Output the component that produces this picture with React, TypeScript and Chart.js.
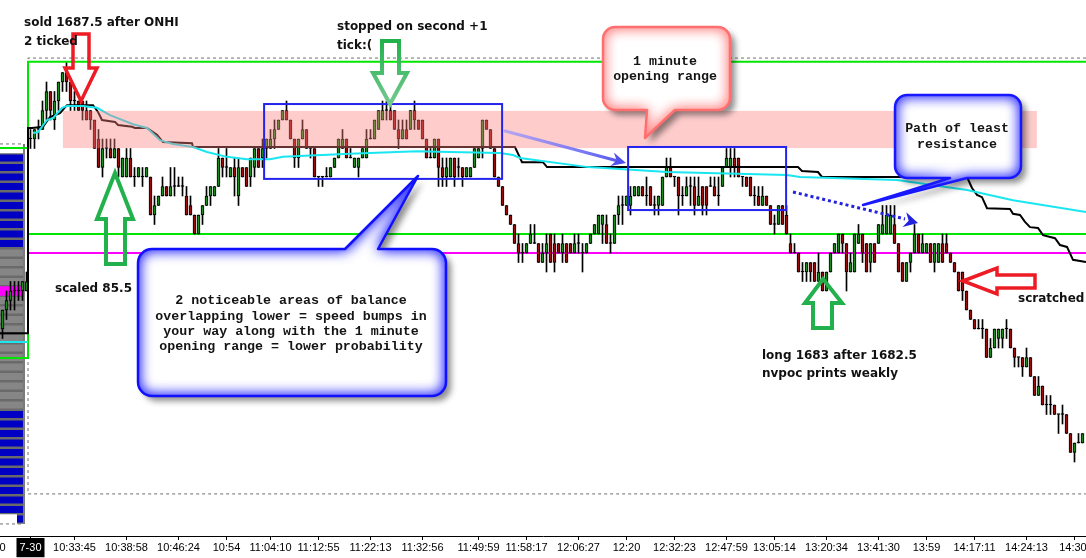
import React, { useEffect, useRef } from 'react';
import { Chart, registerables } from 'chart.js';

Chart.register(...registerables);

// ---------------- data ----------------
const FIRST_BAR = -7; // bar index of first entry (prior session bars are negative)

const opens = [
  1681.5, 1682, 1682.25, 1682.5, 1682.5, 1682.5, 1682.5,
  1686.5, 1686.5, 1686.75, 1686.75, 1687.25, 1687.75, 1687, 1687.5, 1688, 1688.25,
  1688, 1687.5, 1687.5, 1687.5, 1687.25, 1687.25, 1687, 1686.5, 1685.75, 1686.25,
  1686.25, 1686, 1686.25, 1685.5, 1685.5, 1686, 1685.5, 1685.5, 1685.5, 1685.5,
  1685.5, 1684.5, 1684.75, 1685, 1685.25, 1685, 1685.25, 1685.25, 1685.25, 1685,
  1684.75, 1684.5, 1684, 1684.5, 1684.75, 1685, 1685, 1685.25, 1686, 1685.75,
  1685.5, 1685.75, 1685, 1685.75, 1685.75, 1685.5, 1685.75, 1686.25, 1686, 1686.25,
  1686.25, 1686.5, 1686.75, 1687, 1687.25, 1687, 1686.5, 1686, 1686.5, 1686.75,
  1686.25, 1686.25, 1685.5, 1685.5, 1685.5, 1685.5, 1685.75, 1686, 1686.25, 1686.5,
  1686, 1685.75, 1685.75, 1686, 1686, 1686.5, 1686.5, 1686.75, 1687, 1687.25,
  1687.25, 1687.25, 1686.75, 1686.5, 1686.75, 1686.75, 1687.25, 1687, 1687, 1686.5,
  1686, 1686, 1686.5, 1685.75, 1685.5, 1685.5, 1686, 1685.75, 1685.75, 1685.5,
  1685.5, 1685.75, 1686, 1686.25, 1687, 1686.75, 1686.25, 1685.5, 1685.25, 1684.75,
  1684.5, 1684.25, 1683.75, 1683.5, 1683.5, 1683.75, 1683.75, 1683.75, 1683.25, 1683.5,
  1684, 1683.75, 1683.75, 1683.5, 1683.75, 1683.75, 1683.5, 1683.75, 1683.5, 1683.5,
  1683.75, 1684, 1684, 1684.25, 1684.25, 1683.75, 1683.75, 1684.5, 1684.75, 1684.75,
  1684.75, 1685, 1685, 1685.25, 1685, 1685.25, 1684.75, 1684.75, 1684.75, 1685.5,
  1685.75, 1685.5, 1685.5, 1685, 1685, 1685.25, 1685.25, 1684.75, 1685.25, 1685.25,
  1685.25, 1685.25, 1685, 1685.25, 1685.75, 1685.75, 1686, 1686, 1685.5, 1685.5,
  1685.5, 1685, 1685, 1684.75, 1685, 1684.75, 1684.25, 1684.25, 1684.75, 1684.5,
  1683.75, 1683.5, 1683.5, 1683, 1683, 1683.25, 1683.25, 1682.75, 1683, 1682.5,
  1683, 1683.5, 1683.5, 1684, 1683.75, 1683, 1683, 1683.75, 1684, 1683.75,
  1683.25, 1683.75, 1683.75, 1684, 1684, 1684, 1684.25, 1683.75, 1683.25, 1682.75,
  1683.25, 1683.5, 1684, 1683.5, 1683.5, 1683.75, 1683.25, 1683.25, 1683.75, 1683.75,
  1683.5, 1683.25, 1683, 1683, 1682.5, 1682, 1681.75, 1681.5, 1681.5, 1681.5,
  1680.75, 1681, 1681.25, 1681.25, 1681.5, 1681.5, 1681, 1680.75, 1680.75, 1680.5,
  1680.75, 1680.25, 1679.75, 1680, 1679.5, 1679.5, 1679.5, 1679.25, 1679.25, 1679.25,
  1678.75, 1678.25, 1678.5, 1678.5,
];

const highs = [
  1682, 1682.5, 1682.75, 1682.75, 1682.75, 1682.75, 1683,
  1686.75, 1686.75, 1687, 1687.5, 1688, 1687.75, 1687.75, 1688, 1688.25, 1688.5,
  1688, 1687.75, 1687.5, 1687.5, 1687.5, 1687.25, 1687, 1686.75, 1686.5, 1686.5,
  1686.5, 1686.5, 1686.25, 1686, 1686.25, 1686.25, 1685.75, 1685.75, 1685.75, 1685.75,
  1685.5, 1685, 1685, 1685.5, 1685.25, 1685.75, 1685.75, 1685.5, 1685.5, 1685.25,
  1685, 1684.5, 1684.5, 1684.75, 1685.25, 1685.25, 1685.25, 1686.25, 1686, 1686.25,
  1685.75, 1686, 1686, 1685.75, 1685.75, 1686, 1686.25, 1686.25, 1686.5, 1686.5,
  1686.75, 1687, 1687, 1687.25, 1687.5, 1687, 1686.5, 1686.5, 1687, 1686.75,
  1686.25, 1686.25, 1685.5, 1685.5, 1685.75, 1685.75, 1686, 1686.5, 1686.75, 1686.5,
  1686.25, 1686, 1686, 1686.25, 1686.75, 1686.75, 1687, 1687.25, 1687.5, 1687.5,
  1687.5, 1687.25, 1687, 1687, 1687, 1687.25, 1687.5, 1687, 1687, 1686.5,
  1686.25, 1686.5, 1686.5, 1686, 1686, 1686, 1686, 1686, 1685.75, 1685.75,
  1685.75, 1686.25, 1686.25, 1687, 1687, 1686.75, 1686.25, 1685.5, 1685.25, 1684.75,
  1684.5, 1684.25, 1684, 1683.75, 1683.75, 1684.25, 1684.25, 1683.75, 1683.75, 1684,
  1684, 1684, 1683.75, 1684, 1683.75, 1683.75, 1684, 1684, 1683.75, 1683.75,
  1684, 1684.25, 1684.5, 1684.5, 1684.5, 1684, 1684.5, 1685, 1685, 1685,
  1685.25, 1685.25, 1685.25, 1685.25, 1685.5, 1685.25, 1685, 1685, 1685.5, 1686,
  1686, 1685.5, 1685.5, 1685.25, 1685.5, 1685.5, 1685.5, 1685.5, 1685.25, 1685.25,
  1685.5, 1685.5, 1685.5, 1685.75, 1686.25, 1686.25, 1686.25, 1686, 1685.5, 1685.5,
  1685.5, 1685.25, 1685.25, 1685.25, 1685, 1684.75, 1684.5, 1684.75, 1684.75, 1684.75,
  1684, 1683.75, 1683.5, 1683.25, 1683.25, 1683.25, 1683.25, 1683.5, 1683, 1683,
  1683.5, 1683.75, 1684, 1684, 1683.75, 1683.5, 1684, 1684.25, 1684, 1683.75,
  1683.75, 1683.75, 1684.25, 1684.75, 1684.75, 1684.75, 1684.75, 1683.75, 1683.25, 1683.25,
  1683.5, 1684.25, 1684, 1684, 1683.75, 1683.75, 1683.75, 1683.75, 1684, 1684,
  1683.5, 1683.25, 1683, 1683, 1682.5, 1682, 1681.75, 1681.75, 1681.75, 1681.5,
  1681.25, 1681.5, 1681.5, 1681.5, 1681.75, 1681.5, 1681, 1680.75, 1680.75, 1681,
  1680.75, 1680.25, 1680.25, 1680, 1679.75, 1679.75, 1679.5, 1679.25, 1679.5, 1679.25,
  1678.75, 1678.5, 1678.75, 1678.75,
];

const lows = [
  1681.25, 1681.75, 1682, 1682, 1682.25, 1682.25, 1682.5,
  1686.25, 1686.25, 1686.5, 1686.75, 1687, 1687, 1686.75, 1687.25, 1687.75, 1687.75,
  1687.25, 1687.25, 1687.25, 1687, 1687, 1686.75, 1686.25, 1685.75, 1685.5, 1686,
  1686, 1686, 1685.5, 1685.5, 1685.5, 1685.5, 1685.25, 1685.5, 1685.25, 1685.5,
  1684.5, 1684.25, 1684.75, 1685, 1685, 1685, 1685, 1685.25, 1685, 1684.5,
  1684.5, 1684, 1684, 1684.25, 1684.75, 1684.75, 1685, 1685.25, 1685.5, 1685.5,
  1685.5, 1685, 1684.75, 1685.5, 1685.25, 1685.25, 1685.5, 1685.75, 1685.75, 1686,
  1686.25, 1686.25, 1686.75, 1687, 1687, 1686.5, 1685.75, 1685.75, 1686.5, 1686.25,
  1686, 1685.5, 1685.25, 1685.25, 1685.5, 1685.5, 1685.75, 1686, 1686.25, 1686,
  1686, 1685.75, 1685.5, 1686, 1686, 1686.5, 1686.5, 1686.75, 1687, 1687,
  1687, 1686.75, 1686.25, 1686.5, 1686.5, 1686.75, 1686.75, 1686.75, 1686.5, 1686,
  1686, 1686, 1685.25, 1685.25, 1685.25, 1685.5, 1685.25, 1685.5, 1685.25, 1685.5,
  1685.5, 1685.75, 1686, 1686, 1686.75, 1686.25, 1685.5, 1685.25, 1684.75, 1684.5,
  1684.25, 1683.75, 1683.25, 1683.25, 1683.5, 1683.75, 1683.75, 1683.25, 1683.25, 1683,
  1683.25, 1683, 1683.5, 1683.25, 1683.25, 1683.5, 1683.5, 1683.5, 1683, 1683.5,
  1683.75, 1684, 1684, 1683.75, 1683.75, 1683.5, 1683.75, 1684.25, 1684.25, 1684.75,
  1684.5, 1685, 1685, 1685, 1684.75, 1684.75, 1684.5, 1684.5, 1684.75, 1685.5,
  1685.5, 1685.25, 1684.5, 1684.75, 1685, 1684.75, 1684.5, 1684.75, 1684.5, 1684.5,
  1685.25, 1685, 1684.75, 1685.25, 1685.75, 1685.5, 1685.5, 1685.5, 1685.25, 1685.25,
  1685, 1684.75, 1684.75, 1684.75, 1684.75, 1684.25, 1684, 1684.25, 1684.25, 1684,
  1683.5, 1683.5, 1683, 1682.75, 1682.75, 1682.75, 1682.75, 1682.75, 1682.5, 1682.5,
  1683, 1683.5, 1683.5, 1683.5, 1682.5, 1683, 1683, 1683.75, 1683.25, 1683,
  1683, 1683.25, 1683.75, 1684, 1684, 1684, 1683.75, 1683, 1682.75, 1682.75,
  1683, 1683.5, 1683.5, 1683.5, 1683.5, 1683.25, 1683, 1683.25, 1683.25, 1683.5,
  1683.25, 1683, 1682.5, 1682.25, 1682, 1681.75, 1681.5, 1681.5, 1681.25, 1680.75,
  1680.75, 1681, 1681, 1681, 1681.25, 1681, 1680.5, 1680.5, 1680.25, 1680.5,
  1680.25, 1679.75, 1679.75, 1679.5, 1679.25, 1679.25, 1679.25, 1678.75, 1679, 1678.75,
  1678.25, 1678, 1678.5, 1678.5,
];

const closes = [
  1682, 1682.25, 1682.5, 1682.5, 1682.5, 1682.75, 1682.75,
  1686.5, 1686.75, 1686.75, 1687.25, 1687.75, 1687.25, 1687.5, 1688, 1688.25, 1688,
  1687.5, 1687.5, 1687.25, 1687.25, 1687, 1687, 1686.25, 1685.75, 1686.25, 1686.25,
  1686, 1686.25, 1685.75, 1686, 1686, 1685.5, 1685.5, 1685.75, 1685.5, 1685.75,
  1684.5, 1684.75, 1685, 1685.25, 1685, 1685.25, 1685.25, 1685.25, 1685.25, 1684.5,
  1684.5, 1684, 1684.5, 1684.75, 1685, 1685.25, 1685.25, 1686, 1685.75, 1685.75,
  1685.75, 1685.5, 1685.75, 1685.5, 1685.25, 1686, 1686.25, 1685.75, 1686.25, 1686.5,
  1686.5, 1686.75, 1687, 1687.25, 1687, 1686.5, 1686, 1686.5, 1686.75, 1686.25,
  1686.25, 1685.5, 1685.5, 1685.5, 1685.5, 1685.75, 1686, 1686.5, 1686.5, 1686,
  1686, 1686, 1686, 1686.25, 1686.5, 1686.5, 1687, 1687.25, 1687.25, 1687.25,
  1687, 1686.75, 1686.5, 1686.75, 1686.5, 1687.25, 1687, 1686.75, 1686.5, 1686,
  1686, 1686.5, 1685.75, 1685.5, 1685.75, 1686, 1685.5, 1685.75, 1685.5, 1685.75,
  1685.75, 1686.25, 1686.25, 1687, 1686.75, 1686.25, 1685.5, 1685.25, 1684.75, 1684.5,
  1684.25, 1683.75, 1683.5, 1683.5, 1683.75, 1684, 1683.75, 1683.25, 1683.5, 1683.75,
  1683.25, 1683.25, 1683.5, 1683.75, 1683.25, 1683.5, 1683.75, 1683.75, 1683.5, 1683.75,
  1684, 1684.25, 1684.5, 1684.5, 1683.75, 1683.75, 1684.5, 1684.75, 1684.75, 1685,
  1685, 1685.25, 1685.25, 1685, 1685, 1684.75, 1684.75, 1685, 1685.5, 1685.75,
  1685.5, 1685.5, 1685, 1685, 1685.25, 1685.25, 1684.75, 1685, 1684.75, 1684.75,
  1685.25, 1685, 1685, 1685.75, 1686, 1686, 1685.75, 1685.5, 1685.5, 1685.25,
  1685, 1685, 1684.75, 1685, 1684.75, 1684.25, 1684.25, 1684.75, 1684.25, 1684,
  1683.5, 1683.5, 1683, 1683, 1683.25, 1683, 1682.75, 1683, 1682.5, 1683,
  1683.5, 1683.75, 1684, 1683.75, 1683, 1683.25, 1684, 1684, 1683.5, 1683,
  1683.75, 1683.25, 1684.25, 1684.25, 1684.5, 1684.5, 1683.75, 1683, 1682.75, 1683.25,
  1683.5, 1684, 1683.5, 1683.75, 1683.75, 1683.25, 1683.75, 1683.75, 1683.25, 1683.5,
  1683.25, 1683, 1682.5, 1682.5, 1682, 1681.75, 1681.5, 1681.5, 1681.5, 1680.75,
  1681, 1681.5, 1681.5, 1681.5, 1681.5, 1681, 1680.75, 1680.75, 1680.5, 1680.75,
  1680.25, 1679.75, 1680, 1679.5, 1679.5, 1679.5, 1679.25, 1679.25, 1679.25, 1678.75,
  1678.25, 1678.5, 1678.5, 1678.75,
];

const tickBars = [-7, 0, 11, 24, 37, 49, 60, 72, 85, 98, 112, 124, 137, 149, 161, 174, 186, 199, 212, 224, 236, 249, 261];
const tickLabels = ['0', '7-30', '10:33:45', '10:38:58', '10:46:24', '10:54', '11:04:10', '11:12:55', '11:22:13', '11:32:56', '11:49:59', '11:58:17', '12:06:27', '12:20', '12:32:23', '12:47:59', '13:05:14', '13:20:34', '13:41:30', '13:59', '14:17:11', '14:24:13', '14:30:'];

// cyan line (VWAP)
const vwapPrevBars = [-7.625, -0.625];
const vwapPrevPrices = [1681.16, 1681.16];
const vwapBars = [0.625, 1.875, 4.125, 5.625, 7.875, 9.125, 13.125, 16.625, 19.875, 25.625, 29.125, 32.375, 35.625, 40.625, 44.125, 49.125, 54.125, 59.875, 63.125, 79.875, 96.625, 104.875, 117.375, 120.625, 122.375, 139.375, 159.125, 189.125, 192.375, 216.625, 234.125, 245.625, 263.875];
const vwapPrices = [1686.66, 1686.68, 1687.0, 1687.05, 1687.32, 1687.37, 1687.37, 1687.32, 1687.13, 1686.89, 1686.79, 1686.47, 1686.37, 1686.29, 1686.16, 1686.03, 1685.97, 1685.97, 1686.03, 1686.11, 1686.18, 1686.16, 1686.13, 1686.08, 1686.0, 1685.76, 1685.63, 1685.55, 1685.5, 1685.42, 1685.16, 1684.89, 1684.58];

// black stepped line
const stepBars = [-7.625, -0.625, -0.625, 0.375, 3.125, 4.875, 7.375, 9.125, 15.625, 16.875, 17.875, 21.125, 21.875, 25.375, 26.125, 29.125, 31.625, 33.125, 40.375, 40.625, 121.125, 122.875, 128.125, 129.125, 191.875, 192.875, 196.875, 197.875, 234.125, 235.375, 236.625, 237.875, 239.125, 244.875, 245.625, 247.375, 248.625, 249.875, 251.875, 253.125, 256.125, 257.375, 259.125, 260.625, 263.875];
const stepPrices = [1681.39, 1681.39, 1686.79, 1686.79, 1686.82, 1687.08, 1687.18, 1687.39, 1687.39, 1687.21, 1687.0, 1686.95, 1686.87, 1686.82, 1686.79, 1686.79, 1686.61, 1686.42, 1686.39, 1686.29, 1686.29, 1685.89, 1685.89, 1685.76, 1685.76, 1685.66, 1685.63, 1685.5, 1685.5, 1685.21, 1685.03, 1684.97, 1684.68, 1684.66, 1684.53, 1684.5, 1684.32, 1684.18, 1684.16, 1683.97, 1683.89, 1683.71, 1683.66, 1683.32, 1683.26];

// green / magenta level lines
const levelBars = [-7.625, -0.625, -0.625, 263.875];
const upperGreenPrices = [1686.26, 1686.26, 1688.53, 1688.53];
const lowerGreenPrices = [1680.74, 1680.74, 1684.0, 1684.0];
const magentaBars = [-0.625, 263.875];
const magentaPrices = [1683.5, 1683.5];

// dashed frame
const frameBars = [263.875, -0.625, -0.625, 263.875];
const framePrices = [1688.63, 1688.63, 1677.16, 1677.16];
const profileFrameTop = 1686.37;
const profileFrameBottom = 1676.37;

// volume profile (left)
const profileLevels = [1686, 1685.75, 1685.5, 1685.25, 1685, 1684.75, 1684.5, 1684.25, 1684, 1683.75,
  1683.5, 1683.25, 1683, 1682.75, 1682.5, 1682.25, 1682, 1681.75, 1681.5, 1681.25, 1681, 1680.75, 1680.5, 1680.25, 1680, 1679.75, 1679.5,
  1679.25, 1679, 1678.75, 1678.5, 1678.25, 1678, 1677.75, 1677.5, 1677.25, 1677, 1676.75, 1676.5];
const profileShades = ['b', 'b', 'b', 'b', 'b', 'b', 'b', 'b', 'b', 'b',
  'g', 'g', 'g', 'g', 'g', 'g', 'g', 'g', 'g', 'g', 'g', 'g', 'g', 'g', 'g', 'g', 'g',
  'b', 'b', 'b', 'b', 'b', 'b', 'b', 'b', 'b', 'b', 'b', 'b'];
const profileLengths = [7, 9, 10, 11, 12, 12, 13, 14, 15, 16, 18, 20, 22, 24, 26, 28, 30, 30, 28, 27,
  25, 24, 22, 20, 18, 16, 14, 13, 12, 11, 10, 10, 9, 9, 8, 8, 7, 7, 1.75];
const pocLevel = 1682.5;
const PROFILE_RIGHT = -1.625;

// shaded band and balance boxes
const bandBars = [8.1, 251.6];
const bandPrices = [1686.26, 1687.24];
const boxBarsFrom = [58.4, 149.4];
const boxBarsTo = [117.9, 188.9];
const boxPriceLow = [1685.45, 1684.63];
const boxPriceHigh = [1687.42, 1686.29];

// ---------------- helpers ----------------
const X_MIN = -7.625;
const X_MAX = 263.875;
const Y_MIN = 1676.0526;
const Y_MAX = 1690.1579;
const GREEN = '#1a8a1a';
const RED = '#9a0c0c';

const pts = (xs: number[], ys: number[]) => xs.map((x, i) => ({ x, y: ys[i] }));

function profileRows(kind: string) {
  const out: any[] = [];
  profileLevels.forEach((p, i) => {
    if (kind === 'all' || profileShades[i] === kind) {
      out.push({ x: PROFILE_RIGHT - profileLengths[i], y: p }, { x: PROFILE_RIGHT, y: p }, { x: PROFILE_RIGHT, y: null });
    }
  });
  return out;
}

function tracePath(ctx: any, c: any) {
  const { x, y, w, h, r, t } = c;
  ctx.moveTo(x + r, y);
  if (t.edge === 'top') { ctx.lineTo(t.a, y); ctx.lineTo(t.tx, t.ty); ctx.lineTo(t.b, y); }
  ctx.lineTo(x + w - r, y);
  ctx.arcTo(x + w, y, x + w, y + r, r);
  ctx.lineTo(x + w, y + h - r);
  ctx.arcTo(x + w, y + h, x + w - r, y + h, r);
  if (t.edge === 'bottom') { ctx.lineTo(t.b, y + h); ctx.lineTo(t.tx, t.ty); ctx.lineTo(t.a, y + h); }
  ctx.lineTo(x + r, y + h);
  ctx.arcTo(x, y + h, x, y + h - r, r);
  ctx.lineTo(x, y + r);
  ctx.arcTo(x, y, x + r, y, r);
  ctx.closePath();
}

function drawCallout(ctx: any, c: any) {
  ctx.save();
  ctx.beginPath(); tracePath(ctx, c);
  ctx.shadowColor = 'rgba(0,0,0,0.45)'; ctx.shadowBlur = 6; ctx.shadowOffsetX = 5; ctx.shadowOffsetY = 5;
  ctx.fillStyle = '#fff'; ctx.fill();
  ctx.restore();

  ctx.save();
  ctx.beginPath(); tracePath(ctx, c); ctx.clip();
  for (let k = 0; k < 2; k++) {
    ctx.beginPath();
    ctx.rect(-5000, -5000, 10000, 10000);
    tracePath(ctx, c);
    ctx.shadowColor = c.glow; ctx.shadowBlur = 14; ctx.shadowOffsetX = 0; ctx.shadowOffsetY = 0;
    ctx.fillStyle = c.glow;
    ctx.fill('evenodd');
  }
  ctx.restore();

  ctx.save();
  ctx.beginPath(); tracePath(ctx, c);
  ctx.strokeStyle = c.border; ctx.lineWidth = 2.5; ctx.lineJoin = 'round';
  ctx.stroke();
  ctx.font = 'bold 13.3px "Liberation Mono"';
  ctx.fillStyle = '#141414'; ctx.textAlign = 'center'; ctx.textBaseline = 'alphabetic';
  c.lines.forEach((s: string, i: number) => ctx.fillText(s, c.cx, c.ly[i]));
  ctx.restore();
}

function hollowArrow(ctx: any, p: number[][], color: any, w: number) {
  ctx.save();
  ctx.beginPath();
  p.forEach(([a, b], i) => (i ? ctx.lineTo(a, b) : ctx.moveTo(a, b)));
  ctx.closePath();
  ctx.lineJoin = 'miter'; ctx.miterLimit = 10;
  ctx.strokeStyle = color; ctx.lineWidth = w;
  ctx.stroke();
  ctx.restore();
}

function arrowHead(ctx: any, x0: number, y0: number, x1: number, y1: number, len: number, half: number, color: string) {
  const ang = Math.atan2(y1 - y0, x1 - x0);
  ctx.beginPath();
  ctx.moveTo(x1, y1);
  ctx.lineTo(x1 - len * Math.cos(ang - half), y1 - len * Math.sin(ang - half));
  ctx.lineTo(x1 - len * 0.6 * Math.cos(ang), y1 - len * 0.6 * Math.sin(ang));
  ctx.lineTo(x1 - len * Math.cos(ang + half), y1 - len * Math.sin(ang + half));
  ctx.closePath();
  ctx.fillStyle = color; ctx.fill();
}

const callouts = [
  { x: 138, y: 249, w: 308, h: 147, r: 14, t: { edge: 'top', a: 345, b: 378, tx: 418, ty: 176 }, border: '#1010ff', glow: '#3a3aff',
    cx: 291, ly: [304, 319.5, 335, 350],
    lines: ['2 noticeable areas of balance', 'overlapping lower = speed bumps in', 'your way along with the 1 minute', 'opening range = lower probability'] },
  { x: 603, y: 27, w: 127, h: 83, r: 12, t: { edge: 'bottom', a: 647, b: 675, tx: 645, ty: 138 }, border: '#ff6f6f', glow: '#ff8c8c',
    cx: 665, ly: [65, 80], lines: ['1 minute', 'opening range'] },
  { x: 895, y: 95, w: 126, h: 83, r: 12, t: { edge: 'bottom', a: 950, b: 967, tx: 863, ty: 205 }, border: '#1818ff', glow: '#4040ff',
    cx: 957, ly: [132, 148], lines: ['Path of least', 'resistance'] },
];

const arrows = [
  { color: '#ed1c24', w: 3.5, p: [[73, 34], [89, 34], [89, 68], [97, 68], [81, 101], [65, 68], [73, 68]] },
  { color: '#22b14c', w: 4, p: [[106, 264], [125, 264], [125, 219], [133, 219], [115, 173], [97, 219], [106, 219]] },
  { color: 'fade', w: 4, p: [[382, 41], [399, 41], [399, 73], [407, 73], [390, 104], [373, 73], [382, 73]] },
  { color: '#22b14c', w: 4, p: [[813, 328], [832, 328], [832, 303], [842, 303], [823, 279], [805, 303], [813, 303]] },
  { color: '#ed1c24', w: 3.5, p: [[963, 281], [997, 268], [997, 275], [1035, 275], [1035, 288], [997, 288], [997, 294]] },
];

const notes = [
  { s: 'sold 1687.5 after ONHI', x: 24, y: 26 },
  { s: '2 ticked', x: 24, y: 45 },
  { s: 'stopped on second +1', x: 337, y: 30 },
  { s: 'tick:(', x: 337, y: 49 },
  { s: 'scaled 85.5', x: 55, y: 292 },
  { s: 'long 1683 after 1682.5', x: 762, y: 359 },
  { s: 'nvpoc prints weakly', x: 762, y: 377 },
  { s: 'scratched', x: 1018, y: 302 },
];

const overlayPlugin = {
  id: 'overlay',
  afterDatasetsDraw(chart: any) {
    const { ctx } = chart;
    const xs = chart.scales.x;
    const ys = chart.scales.y;
    ctx.save();
    const bx0 = xs.getPixelForValue(bandBars[0]);
    const bx1 = xs.getPixelForValue(bandBars[1]);
    const by0 = ys.getPixelForValue(bandPrices[1]);
    const by1 = ys.getPixelForValue(bandPrices[0]);
    ctx.fillStyle = 'rgba(255,128,128,0.4)';
    ctx.fillRect(bx0, by0, bx1 - bx0, by1 - by0);
    ctx.strokeStyle = '#2424ee';
    ctx.lineWidth = 2;
    boxBarsFrom.forEach((b, i) => {
      const x0 = xs.getPixelForValue(b);
      const x1 = xs.getPixelForValue(boxBarsTo[i]);
      const y0 = ys.getPixelForValue(boxPriceHigh[i]);
      const y1 = ys.getPixelForValue(boxPriceLow[i]);
      ctx.strokeRect(x0, y0, x1 - x0, y1 - y0);
    });
    ctx.restore();
  },
  afterDraw(chart: any) {
    const ctx = chart.ctx;
    ctx.save();
    // solid blue arrow between the balance areas
    const g = ctx.createLinearGradient(505, 131, 625, 163);
    g.addColorStop(0, 'rgba(150,150,255,0.7)');
    g.addColorStop(1, '#5050ee');
    ctx.strokeStyle = g; ctx.lineWidth = 3; ctx.lineCap = 'round';
    ctx.beginPath(); ctx.moveTo(505, 131); ctx.lineTo(616, 160.5); ctx.stroke();
    arrowHead(ctx, 505, 131, 626, 163, 16, 0.45, '#5050ee');
    // dotted blue arrow
    ctx.strokeStyle = '#2323dd'; ctx.lineWidth = 3; ctx.lineCap = 'butt';
    ctx.setLineDash([3, 3]);
    ctx.beginPath(); ctx.moveTo(793, 192); ctx.lineTo(905, 219); ctx.stroke();
    ctx.setLineDash([]);
    arrowHead(ctx, 793, 192, 918, 223, 16, 0.5, '#2323dd');
    ctx.restore();

    arrows.forEach((a) => {
      let col: any = a.color;
      if (col === 'fade') {
        col = ctx.createLinearGradient(0, 41, 0, 104);
        col.addColorStop(0, '#22b14c');
        col.addColorStop(1, '#74c990');
      }
      hollowArrow(ctx, a.p, col, a.w);
    });
    callouts.forEach((c) => drawCallout(ctx, c));

    ctx.save();
    ctx.font = 'bold 12px "DejaVu Sans"';
    ctx.fillStyle = '#111';
    ctx.textAlign = 'left';
    ctx.textBaseline = 'alphabetic';
    notes.forEach((n) => ctx.fillText(n.s, n.x, n.y));
    ctx.restore();
  },
};

const lineCommon = { type: 'line', pointRadius: 0, tension: 0, fill: false, spanGaps: false, borderCapStyle: 'butt', borderJoinStyle: 'miter' };

export default function App() {
  const ref = useRef<HTMLCanvasElement>(null);

  useEffect(() => {
    document.body.style.margin = '0';
    const barX = opens.map((_, i) => i + FIRST_BAR);
    const wickData = barX.map((bx, i) => ({ x: bx, y: [lows[i], highs[i]] }));
    const bodyData = barX.map((bx, i) => ({ x: bx, y: [Math.min(opens[i], closes[i]), Math.max(opens[i], closes[i])] }));
    const bodyColors = barX.map((_, i) => (closes[i] > opens[i] ? GREEN : closes[i] < opens[i] ? RED : '#000'));

    const datasets: any[] = [
      { ...lineCommon, data: profileRows('all'), borderColor: '#6a6a6a', borderWidth: 9.5, order: 20 },
      { ...lineCommon, data: profileRows('b'), borderColor: '#0000c4', borderWidth: 7, order: 19 },
      { ...lineCommon, data: profileRows('g'), borderColor: '#868686', borderWidth: 7, order: 19 },
      { ...lineCommon, data: [{ x: X_MIN - 10, y: pocLevel }, { x: PROFILE_RIGHT, y: pocLevel }], borderColor: '#ff00ff', borderWidth: 9.5, order: 18 },
      { ...lineCommon, data: [{ x: PROFILE_RIGHT, y: profileFrameTop }, { x: PROFILE_RIGHT, y: profileFrameBottom }], borderColor: '#7a7a7a', borderWidth: 2, order: 18 },
      { ...lineCommon, data: [{ x: X_MIN, y: profileFrameTop }, { x: PROFILE_RIGHT - 0.3, y: profileFrameTop }, { x: PROFILE_RIGHT - 0.3, y: null }, { x: X_MIN, y: profileFrameBottom }, { x: PROFILE_RIGHT - 0.3, y: profileFrameBottom }], borderColor: '#707070', borderWidth: 1, borderDash: [3, 3], order: 17 },
      { ...lineCommon, data: pts(frameBars, framePrices), borderColor: '#707070', borderWidth: 1, borderDash: [3, 3], order: 17 },
      { ...lineCommon, data: pts(levelBars, upperGreenPrices), borderColor: '#00e600', borderWidth: 2, order: 16 },
      { ...lineCommon, data: pts(levelBars, lowerGreenPrices), borderColor: '#00e600', borderWidth: 2, order: 16 },
      { ...lineCommon, data: pts(magentaBars, magentaPrices), borderColor: '#ff00ff', borderWidth: 2, order: 16 },
      { type: 'bar', data: wickData, backgroundColor: '#000', borderWidth: 0, barThickness: 1, minBarLength: 1, stack: 'candle', order: 12 },
      { type: 'bar', data: bodyData, backgroundColor: bodyColors, borderColor: '#000', borderWidth: 1, borderSkipped: false, barThickness: 3, minBarLength: 1, stack: 'candle', order: 11 },
      { ...lineCommon, data: pts(stepBars, stepPrices), borderColor: '#000', borderWidth: 2, order: 10 },
      { ...lineCommon, data: [...pts(vwapPrevBars, vwapPrevPrices), { x: -0.3, y: null }, ...pts(vwapBars, vwapPrices)], borderColor: '#19e6f0', borderWidth: 2, order: 9 },
    ];

    const chart = new Chart(ref.current as HTMLCanvasElement, {
      type: 'bar',
      data: { datasets },
      options: {
        animation: false,
        responsive: false,
        devicePixelRatio: 1,
        events: [],
        layout: { padding: 0 },
        plugins: { legend: { display: false }, tooltip: { enabled: false } },
        scales: {
          x: {
            type: 'linear',
            position: 'bottom',
            min: X_MIN,
            max: X_MAX,
            offset: false,
            grid: {
              display: true,
              offset: false,
              drawOnChartArea: false,
              drawTicks: true,
              tickLength: 4,
              color: (c: any) => (c.index === 0 ? 'rgba(0,0,0,0)' : '#000'),
              tickColor: (c: any) => (c.index === 0 ? 'rgba(0,0,0,0)' : '#000'),
            },
            border: { display: true, color: '#000', width: 1 },
            ticks: {
              autoSkip: false,
              maxRotation: 0,
              minRotation: 0,
              padding: 1,
              font: { family: 'Liberation Sans', size: 11 },
              color: (c: any) => (c.index === 1 ? '#fff' : '#000'),
              showLabelBackdrop: (c: any) => c.index === 1,
              backdropColor: '#000',
              backdropPadding: { top: 3, bottom: 3, left: 3, right: 3 },
              callback: (_v: any, i: number) => tickLabels[i] ?? '',
            },
            afterBuildTicks: (s: any) => { s.ticks = tickBars.map((v) => ({ value: v })); },
            afterFit: (s: any) => { s.height = 22; s.paddingLeft = 0; s.paddingRight = 0; },
          },
          y: { type: 'linear', display: false, min: Y_MIN, max: Y_MAX, stacked: false, beginAtZero: false },
        },
      } as any,
      plugins: [overlayPlugin],
    } as any);
    return () => chart.destroy();
  }, []);

  return (
    <div style={{ width: 1086, height: 558, background: '#fff' }}>
      <canvas ref={ref} width={1086} height={558} style={{ display: 'block' }} />
    </div>
  );
}
